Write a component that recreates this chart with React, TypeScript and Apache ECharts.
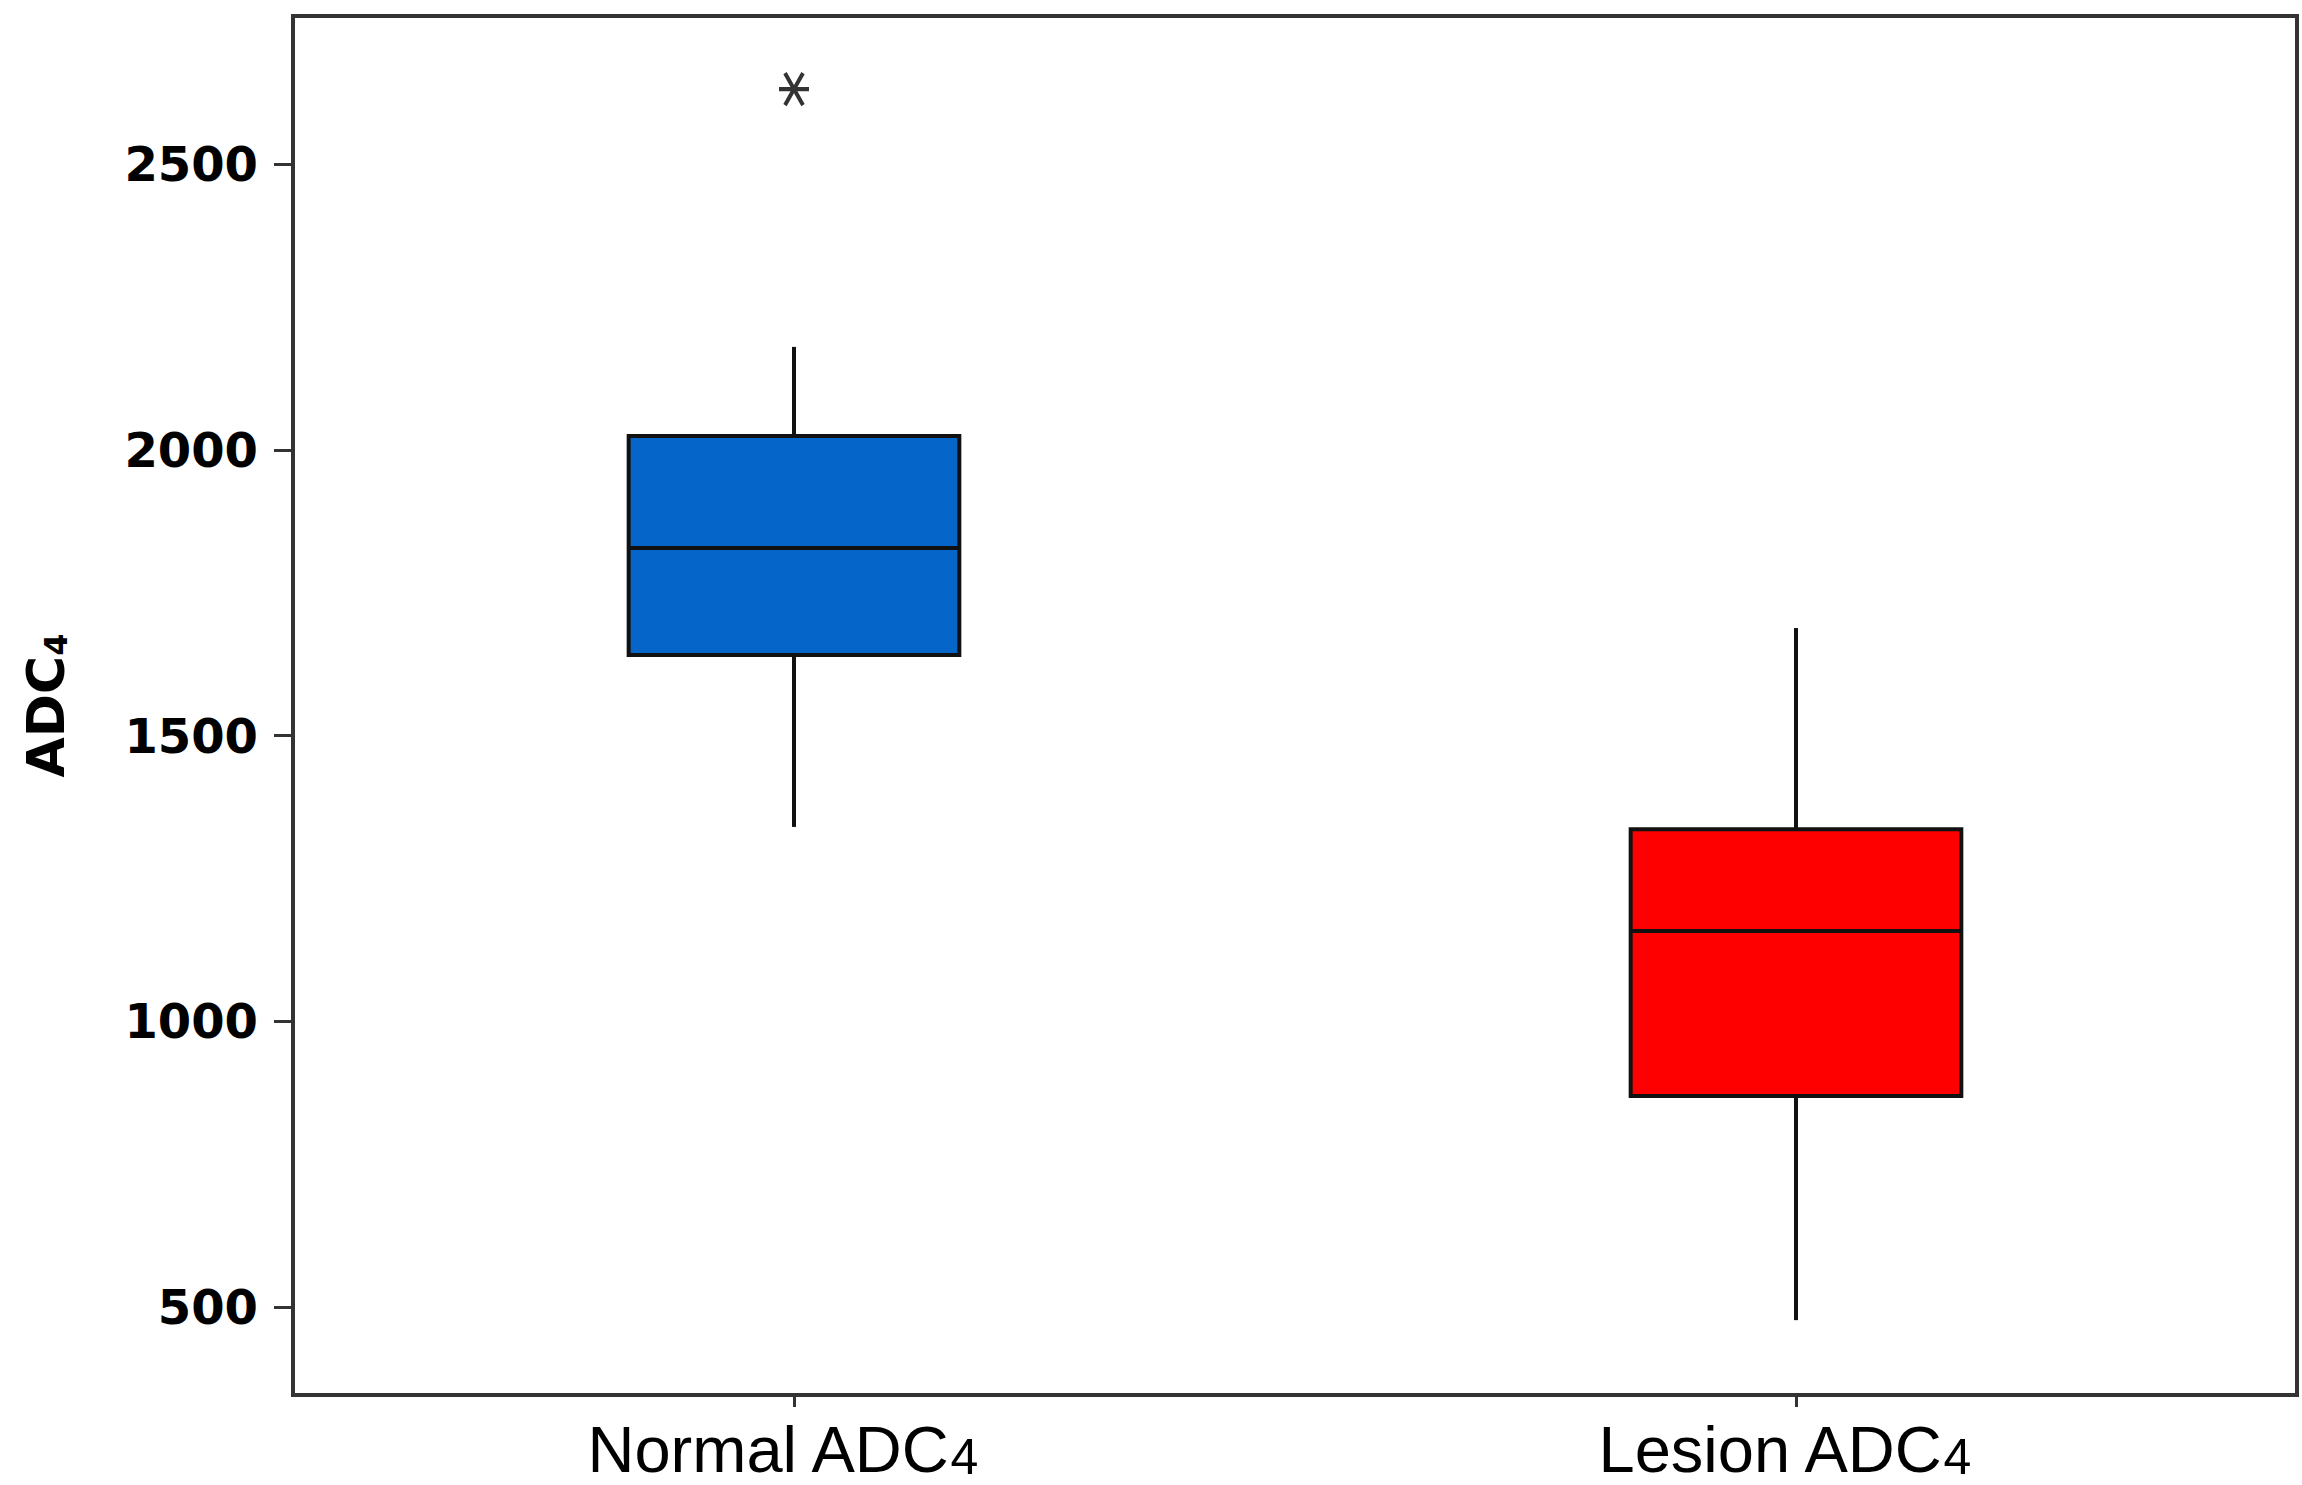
import React, { useEffect, useRef } from "react";
import * as echarts from "echarts";

const categories = ["Normal ADC4", "Lesion ADC4"];
const lowerWhisker = [1340, 477];
const q1 = [1641, 869];
const median = [1828, 1158];
const q3 = [2024, 1336];
const upperWhisker = [2180, 1688];
const outliers: [number, number][] = [[0, 2631]];
const yTicks = [500, 1000, 1500, 2000, 2500];
const yTitle = "ADC";
const yTitleSub = "4";

const boxColors = ["#0565C8", "#FE0000"];
const ink = "#111111";
const frame = "#333333";
const boldFont = "'DejaVu Sans', Verdana, sans-serif";
const labelFont = "'Liberation Sans', Arial, sans-serif";

export default function App() {
  const ref = useRef<HTMLDivElement>(null);
  useEffect(() => {
    if (!ref.current) return;
    const chart = echarts.init(ref.current, null, { renderer: "svg" });
    const boxData = categories.map((_, i) => [i, lowerWhisker[i], q1[i], median[i], q3[i], upperWhisker[i]]);
    chart.setOption({
      animation: false,
      backgroundColor: "#ffffff",
      grid: {
        left: 293,
        right: 5,
        top: 16,
        bottom: 90,
        containLabel: false,
        outerBoundsMode: "none",
        show: true,
        borderColor: frame,
        borderWidth: 4,
        backgroundColor: "transparent",
      },
      xAxis: {
        type: "category",
        data: categories,
        boundaryGap: true,
        axisLine: { show: false },
        axisTick: { show: true, alignWithLabel: true, length: 12, lineStyle: { color: frame, width: 3 } },
        axisLabel: {
          margin: 22,
          color: "#000",
          padding: [0, 24, 0, 0],
          formatter: (v: string) => `{main|${v.slice(0, -1)}}{sub|${v.slice(-1)}}`,
          rich: {
            main: { fontSize: 65, fontFamily: labelFont, color: "#000" },
            sub: { fontSize: 50, fontFamily: labelFont, color: "#000", verticalAlign: "bottom" },
          },
        },
        splitLine: { show: false },
      },
      yAxis: {
        type: "value",
        min: 346,
        max: 2759,
        name: `{main|${yTitle}}{sub|${yTitleSub}}`,
        nameLocation: "middle",
        nameRotate: 90,
        nameGap: 221,
        nameTextStyle: {
          rich: {
            main: { fontSize: 52, fontWeight: "bold", fontFamily: boldFont, color: "#000" },
            sub: { fontSize: 32, fontWeight: "bold", fontFamily: boldFont, color: "#000", verticalAlign: "bottom" },
          },
        },
        axisLine: { show: false },
        axisTick: { show: true, length: 19, customValues: yTicks, lineStyle: { color: frame, width: 3 } },
        axisLabel: {
          customValues: yTicks,
          margin: 35,
          fontSize: 48,
          fontWeight: "bold",
          fontFamily: boldFont,
          color: "#000",
          formatter: (v: number) => String(v),
        },
        splitLine: { show: false },
      },
      series: [
        {
          type: "custom",
          data: boxData,
          encode: { x: 0, y: [1, 2, 3, 4, 5] },
          renderItem: (params: any, api: any) => {
            const x = api.value(0);
            const pLow = api.coord([x, api.value(1)]);
            const pQ1 = api.coord([x, api.value(2)]);
            const pMed = api.coord([x, api.value(3)]);
            const pQ3 = api.coord([x, api.value(4)]);
            const pHigh = api.coord([x, api.value(5)]);
            const band = api.size([1, 0])[0];
            const half = (band * 0.33) / 2;
            const cx = pMed[0];
            const lineStyle = { stroke: ink, lineWidth: 4 };
            return {
              type: "group",
              children: [
                { type: "line", shape: { x1: cx, y1: pLow[1], x2: cx, y2: pQ1[1] }, style: lineStyle },
                { type: "line", shape: { x1: cx, y1: pQ3[1], x2: cx, y2: pHigh[1] }, style: lineStyle },
                {
                  type: "rect",
                  shape: { x: cx - half, y: pQ3[1], width: half * 2, height: pQ1[1] - pQ3[1] },
                  style: { fill: boxColors[params.dataIndex], stroke: ink, lineWidth: 4 },
                },
                { type: "line", shape: { x1: cx - half, y1: pMed[1], x2: cx + half, y2: pMed[1] }, style: lineStyle },
              ],
            };
          },
        },
        {
          type: "scatter",
          data: outliers,
          symbol: "path://M-10,0L10,0M-6,-9L6,9M6,-9L-6,9",
          symbolSize: [30, 32],
          itemStyle: { color: "none", borderColor: "#000", borderWidth: 4 },
        },
      ],
    });
    return () => chart.dispose();
  }, []);
  return <div ref={ref} style={{ position: "absolute", left: 0, top: 0, width: 2302, height: 1485 }} />;
}
